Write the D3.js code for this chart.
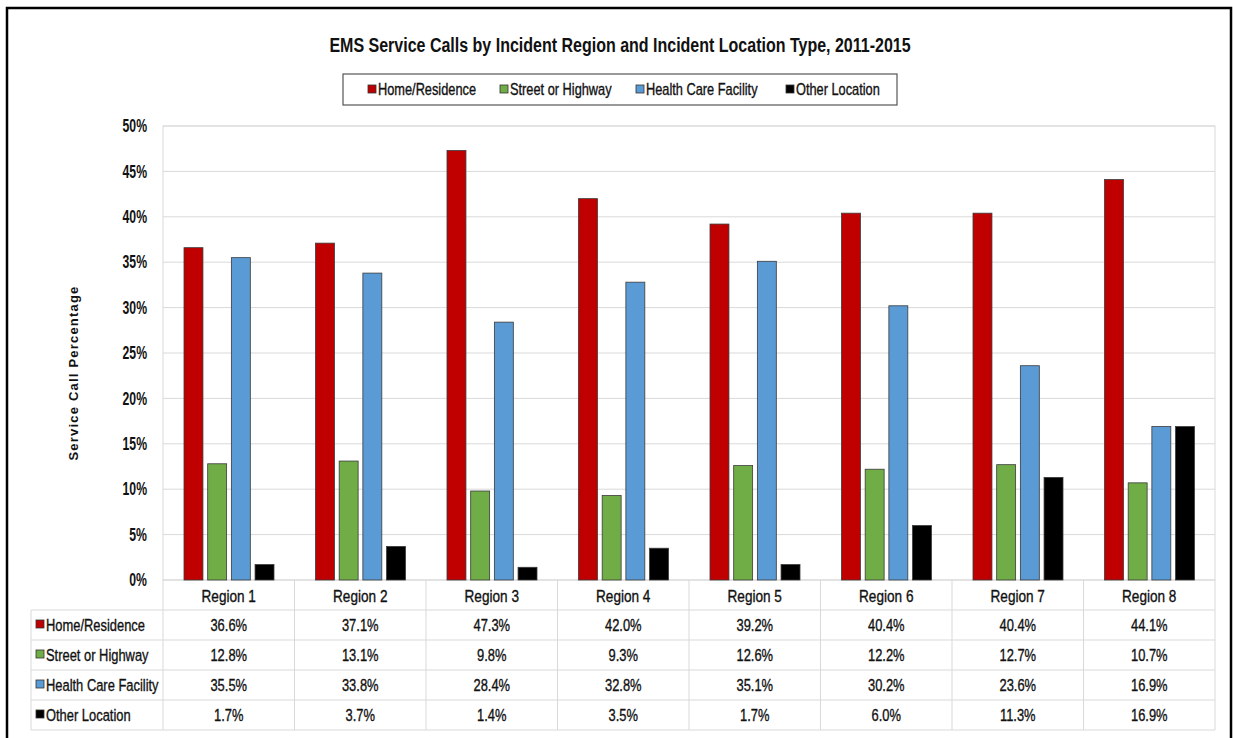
<!DOCTYPE html>
<html>
<head>
<meta charset="utf-8">
<script src="https://cdn.jsdelivr.net/npm/d3@7"></script>
<style>
  body { margin: 0; background: #fff; }
  text { font-family: "Liberation Sans Narrow", "Arial Narrow", "Liberation Sans", sans-serif; fill: #111; }
  text.heavy { stroke: #111; stroke-width: 0.35px; }
</style>
</head>
<body>
<svg id="chart" width="1233" height="738"></svg>
<script>
const regions = ['Region 1', 'Region 2', 'Region 3', 'Region 4', 'Region 5', 'Region 6', 'Region 7', 'Region 8'];
const seriesNames = ['Home/Residence', 'Street or Highway', 'Health Care Facility', 'Other Location'];
const homeValues = [36.6, 37.1, 47.3, 42.0, 39.2, 40.4, 40.4, 44.1];
const streetValues = [12.8, 13.1, 9.8, 9.3, 12.6, 12.2, 12.7, 10.7];
const healthValues = [35.5, 33.8, 28.4, 32.8, 35.1, 30.2, 23.6, 16.9];
const otherValues = [1.7, 3.7, 1.4, 3.5, 1.7, 6.0, 11.3, 16.9];
const yTicks = [0, 5, 10, 15, 20, 25, 30, 35, 40, 45, 50];
const colors = ['#c00000', '#70ad47', '#5b9bd5', '#000000'];

const allValues = [homeValues, streetValues, healthValues, otherValues];

const svg = d3.select('#chart');

const plot = { left: 163, right: 1215, top: 126, bottom: 580 };
const rowH = 30;
const tableLeft = 31;

// no narrow font installed, so squeeze the glyphs horizontally
const squeeze = (sel, sx) => {
  sel.each(function() {
    const t = d3.select(this);
    const x = +(t.attr('x') || 0);
    t.attr('x', x / sx).attr('transform', `scale(${sx},1)`);
  });
};

// outer frame
svg.append('rect')
  .attr('x', 7).attr('y', 8).attr('width', 1224).attr('height', 740)
  .attr('fill', 'none').attr('stroke', '#000').attr('stroke-width', 2.5);

const x0 = d3.scaleBand().domain(regions).range([plot.left, plot.right]);
const x1 = d3.scaleBand().domain(seriesNames).range([21, 111]).paddingInner(0.2);
const y = d3.scaleLinear().domain([0, 50]).range([plot.bottom, plot.top]);

// title
svg.append('text')
  .attr('x', 620).attr('y', 52)
  .attr('text-anchor', 'middle')
  .style('font-size', '20px').style('font-weight', 'bold')
  .text('EMS Service Calls by Incident Region and Incident Location Type, 2011-2015')
  .call(squeeze, 0.8);

// legend
const legend = svg.append('g');
legend.append('rect')
  .attr('x', 343).attr('y', 74).attr('width', 554).attr('height', 31)
  .attr('fill', '#fff').attr('stroke', '#555').attr('stroke-width', 1.2);
const legendX = [368, 500, 636, 786];
seriesNames.forEach((name, i) => {
  legend.append('rect')
    .attr('x', legendX[i]).attr('y', 85).attr('width', 8).attr('height', 8)
    .attr('fill', colors[i]).attr('stroke', '#333').attr('stroke-width', 0.8);
  legend.append('text')
    .attr('class', 'heavy')
    .attr('x', legendX[i] + 10).attr('y', 95)
    .style('font-size', '16px')
    .text(name)
    .call(squeeze, 0.8);
});

// gridlines
svg.append('g')
  .selectAll('line')
  .data(yTicks)
  .join('line')
  .attr('x1', plot.left).attr('x2', plot.right)
  .attr('y1', d => y(d)).attr('y2', d => y(d))
  .attr('stroke', '#d9d9d9').attr('stroke-width', 1);

svg.append('rect')
  .attr('x', plot.left).attr('y', plot.top)
  .attr('width', plot.right - plot.left).attr('height', plot.bottom - plot.top)
  .attr('fill', 'none').attr('stroke', '#d9d9d9');

// y axis
const yAxis = svg.append('g')
  .attr('transform', `translate(${plot.left - 13},0)`)
  .call(d3.axisLeft(y).tickValues(yTicks).tickSize(0).tickFormat(d => d + '%'));
yAxis.select('.domain').remove();
yAxis.selectAll('text')
  .style('font-size', '18px').style('font-weight', 'bold')
  .style('font-family', '"Liberation Sans Narrow", "Arial Narrow", "Liberation Sans", sans-serif')
  .attr('fill', '#111')
  .call(squeeze, 0.68);

svg.append('text')
  .attr('transform', `translate(78,${(plot.top + plot.bottom) / 2 + 20}) rotate(-90)`)
  .attr('text-anchor', 'middle')
  .style('font-family', '"Liberation Sans", Arial, sans-serif')
  .style('font-size', '13px').style('font-weight', 'bold')
  .style('letter-spacing', '1.2px')
  .text('Service Call Percentage');

// bars
const groups = svg.append('g')
  .selectAll('g')
  .data(regions)
  .join('g')
  .attr('transform', d => `translate(${x0(d)},0)`);

groups.selectAll('rect')
  .data((d, i) => seriesNames.map((s, j) => ({ series: s, value: allValues[j][i], color: colors[j] })))
  .join('rect')
  .attr('x', d => x1(d.series))
  .attr('width', x1.bandwidth())
  .attr('y', d => y(d.value))
  .attr('height', d => y(0) - y(d.value))
  .attr('fill', d => d.color)
  .attr('stroke', '#3a3a3a').attr('stroke-width', 0.8);

// data table
const table = svg.append('g');
const tableTop = plot.bottom;
const tableBottom = tableTop + rowH * 5;
const lineColor = '#d9d9d9';

d3.range(1, 6).forEach(r => {
  table.append('line')
    .attr('x1', tableLeft).attr('x2', plot.right)
    .attr('y1', tableTop + r * rowH).attr('y2', tableTop + r * rowH)
    .attr('stroke', lineColor);
});
regions.concat(['end']).forEach((reg, i) => {
  const xx = i < regions.length ? x0(reg) : plot.right;
  table.append('line')
    .attr('x1', xx).attr('x2', xx)
    .attr('y1', tableTop).attr('y2', tableBottom)
    .attr('stroke', lineColor);
});
table.append('line')
  .attr('x1', tableLeft).attr('x2', tableLeft)
  .attr('y1', tableTop + rowH).attr('y2', tableBottom)
  .attr('stroke', lineColor);

// header row
table.selectAll('text.hdr')
  .data(regions)
  .join('text')
  .attr('class', 'hdr heavy')
  .attr('x', d => x0(d) + x0.bandwidth() / 2)
  .attr('y', tableTop + rowH / 2 + 7)
  .attr('text-anchor', 'middle')
  .style('font-size', '17px')
  .text(d => d)
  .call(squeeze, 0.8);

seriesNames.forEach((name, j) => {
  const rowY = tableTop + rowH * (j + 1) + rowH / 2;
  table.append('rect')
    .attr('x', tableLeft + 5).attr('y', rowY - 5).attr('width', 8).attr('height', 8)
    .attr('fill', colors[j]).attr('stroke', '#333').attr('stroke-width', 0.8);
  table.append('text')
    .attr('class', 'heavy')
    .attr('x', tableLeft + 15).attr('y', rowY + 6)
    .style('font-size', '17px')
    .text(name)
    .call(squeeze, 0.76);
  table.selectAll(`text.v${j}`)
    .data(allValues[j])
    .join('text')
    .attr('class', `v${j} heavy`)
    .attr('x', (d, i) => x0(regions[i]) + x0.bandwidth() / 2)
    .attr('y', rowY + 6)
    .attr('text-anchor', 'middle')
    .style('font-size', '17px')
    .text(d => d.toFixed(1) + '%')
    .call(squeeze, 0.76);
});
</script>
</body>
</html>
